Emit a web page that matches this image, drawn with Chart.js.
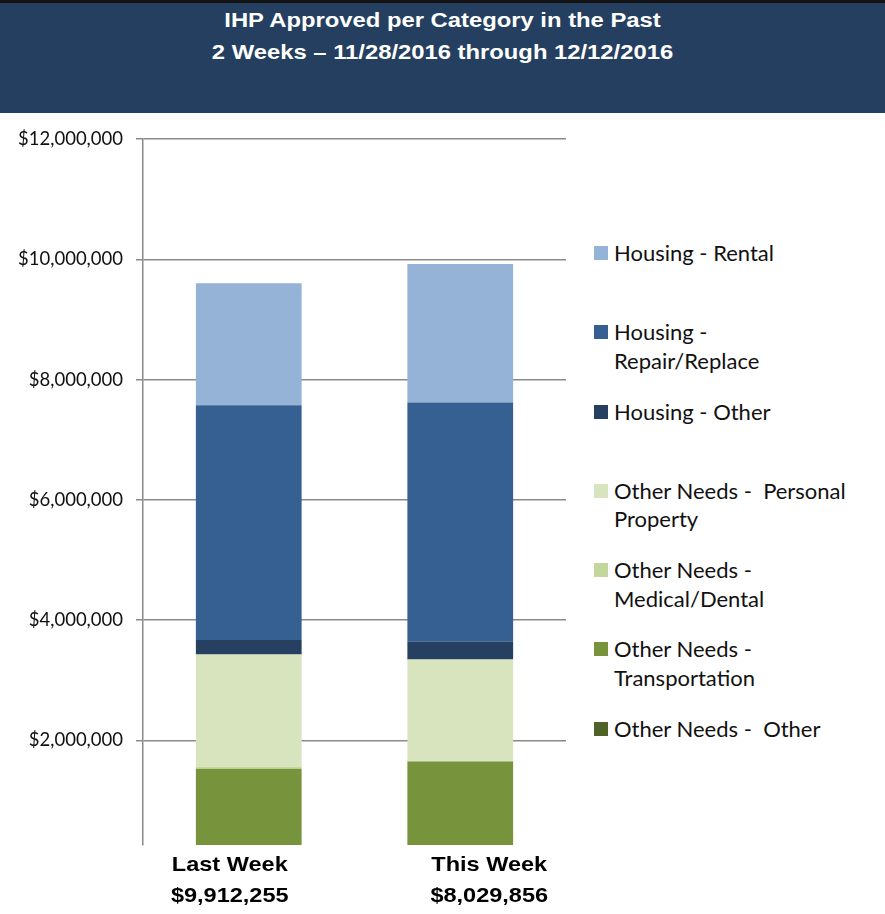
<!DOCTYPE html>
<html lang="en">
<head>
    <meta charset="UTF-8">
    <title>IHP Approved per Category</title>
    <script src="https://cdn.jsdelivr.net/npm/chart.js"></script>
    <style>
        body {
            margin: 0;
            width: 885px;
            height: 914px;
            background: #fff;
            position: relative;
            overflow: hidden;
        }
        .banner {
            position: absolute;
            left: 0;
            top: 0;
            width: 885px;
            height: 110px;
            background: #253f60;
            border-top: 3px solid #141414;
        }
        .banner .title {
            position: absolute;
            left: 0;
            top: 1px;
            width: 885px;
            text-align: center;
            color: #fff;
            font: bold 20px "Liberation Sans", Arial, sans-serif;
            line-height: 32.4px;
            transform: scaleX(1.19);
            transform-origin: 442.5px 0;
        }
        .chart-box {
            position: absolute;
            left: 0;
            top: 113px;
            width: 580px;
            height: 801px;
        }
        #legend {
            position: absolute;
            left: 594px;
            top: 239px;
            font: 22px Lato, "Open Sans", sans-serif;
            color: #111;
        }
        #legend .item {
            position: relative;
            height: 79.3px;
            padding-left: 20px;
            line-height: 28.5px;
            white-space: pre;
        }
        #legend .swatch {
            position: absolute;
            left: 0;
            top: 7px;
            width: 14px;
            height: 14px;
        }
    </style>
</head>
<body>

<div class="banner">
    <div class="title">IHP Approved per Category in the Past<br>2 Weeks – 11/28/2016 through 12/12/2016</div>
</div>

<div class="chart-box">
    <canvas id="myChart" width="580" height="801"></canvas>
</div>
<div id="legend"></div>

<script>
    // categories and the totals printed under them
    const categories = ['Last Week', 'This Week'];
    const totals = ['$9,912,255', '$8,029,856'];

    // series, listed bottom of the stack first
    const seriesNames = [
        'Other Needs -  Other',
        'Other Needs -\nTransportation',
        'Other Needs -\nMedical/Dental',
        'Other Needs -  Personal\nProperty',
        'Housing - Other',
        'Housing -\nRepair/Replace',
        'Housing - Rental'
    ];
    const seriesColors = ['#4f6228', '#77933c', '#c3d69b', '#d7e4bd', '#254061', '#376092', '#95b3d7'];

    const otherNeedsOther  = [0, 0];
    const transportation   = [1530000, 1650000];
    const medicalDental    = [33000, 15000];
    const personalProperty = [1865000, 1680000];
    const housingOther     = [245000, 295000];
    const repairReplace    = [3900000, 3980000];
    const rental           = [2030000, 2300000];

    const seriesValues = [otherNeedsOther, transportation, medicalDental, personalProperty,
                          housingOther, repairReplace, rental];

    const yTicks = [2000000, 4000000, 6000000, 8000000, 10000000, 12000000];

    const datasets = seriesNames.map((name, i) => ({
        label: name.replace('\n', ' '),
        data: seriesValues[i],
        backgroundColor: seriesColors[i],
        borderWidth: 0
    }));

    // labels under the bars sit a little off the bar centres in the original
    const labelOffsets = [-19, 29];
    const bottomLabels = {
        id: 'bottomLabels',
        afterDraw(chart) {
            const ctx = chart.ctx;
            const x = chart.scales.x;
            ctx.fillStyle = '#000';
            ctx.font = 'bold 21px "Liberation Sans", Arial, sans-serif';
            ctx.textAlign = 'center';
            ctx.textBaseline = 'middle';
            categories.forEach((c, i) => {
                const px = x.getPixelForValue(i) + labelOffsets[i];
                ctx.save();
                ctx.translate(px, 0);
                ctx.scale(1.12, 1);
                ctx.fillText(c, 0, 752);
                ctx.fillText(totals[i], 0, 783);
                ctx.restore();
            });
        }
    };

    const ctx = document.getElementById('myChart').getContext('2d');
    new Chart(ctx, {
        type: 'bar',
        data: { labels: categories, datasets: datasets },
        options: {
            responsive: false,
            animation: false,
            layout: { padding: { left: 0, top: 26, right: 14, bottom: 69 } },
            datasets: { bar: { categoryPercentage: 1, barPercentage: 0.5 } },
            scales: {
                x: { stacked: true, display: false },
                y: {
                    stacked: true,
                    min: 263000,
                    max: 12000000,
                    afterBuildTicks: s => { s.ticks = yTicks.map(v => ({ value: v })); },
                    afterFit: s => { s.width = 143; },
                    border: { display: true, color: '#8a8a8a', width: 1.5 },
                    grid: { color: '#8a8a8a', lineWidth: 1.5, tickLength: 7, drawTicks: true },
                    ticks: {
                        padding: 13,
                        color: '#111',
                        font: { family: 'Lato, "Open Sans", sans-serif', size: 18.5 },
                        callback: v => '$' + v.toLocaleString('en-US')
                    }
                }
            },
            plugins: {
                legend: { display: false },
                tooltip: { enabled: false }
            }
        },
        plugins: [bottomLabels]
    });

    // legend, top of the stack first
    const legend = document.getElementById('legend');
    for (let i = seriesNames.length - 1; i >= 0; i--) {
        const item = document.createElement('div');
        item.className = 'item';
        const sw = document.createElement('span');
        sw.className = 'swatch';
        sw.style.background = seriesColors[i];
        item.appendChild(sw);
        item.appendChild(document.createTextNode(seriesNames[i]));
        legend.appendChild(item);
    }
</script>

</body>
</html>
